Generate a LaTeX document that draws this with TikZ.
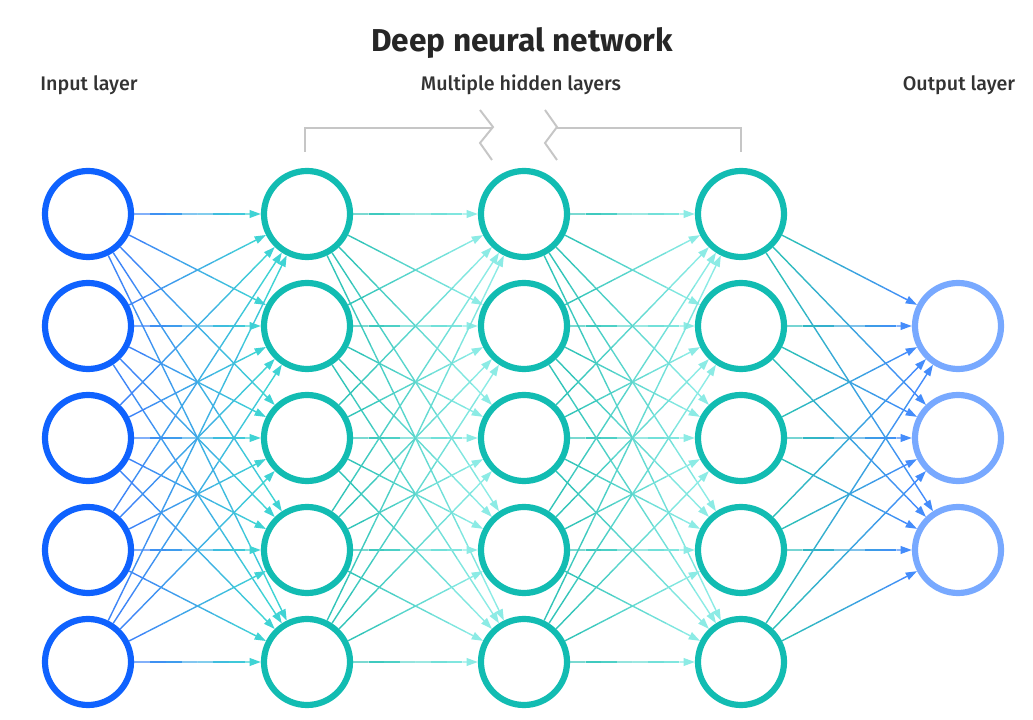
\documentclass[tikz,border=0pt]{standalone}
\usepackage{fontspec}
\setmainfont{Fira Sans}
\newfontfamily\labelfont{Fira Sans}[UprightFont=* Medium]
\usetikzlibrary{arrows.meta,calc}
\definecolor{inblue}{HTML}{0F62FE}
\definecolor{hidteal}{HTML}{12BCB2}
\definecolor{outblue}{HTML}{78A9FF}
\definecolor{edgeblue}{HTML}{3F80FA}
\definecolor{edgecyan}{HTML}{3FD8D2}
\definecolor{edgeteal}{HTML}{2CC2B6}
\definecolor{edgepale}{HTML}{92EEE8}
\definecolor{edgeout}{HTML}{4589FF}
\definecolor{bracketgray}{HTML}{C6C6C6}
\definecolor{textgray}{HTML}{333333}

\tikzset{
  neuron/.style={circle,draw,line width=4.4pt,minimum size=2.15cm,inner sep=0pt,fill=white},
  wire/.style={line width=1pt},
  wiretip/.style={-{Triangle[length=8pt,width=5.5pt]}},
  layerlabel/.style={font=\fontsize{14}{16}\selectfont\labelfont,text=textgray}
}

% edge fading from colour #3 to colour #4
\newcommand{\fadeedge}[4]{%
  \path (#1) -- (#2) coordinate[pos=0] (s) coordinate[pos=1] (e);
  \foreach \k in {0,...,6}{
    \pgfmathtruncatemacro{\mix}{100-(\k+0.5)*100/8}
    \draw[wire,color=#3!\mix!#4] ($(s)!\k/8!(e)$) -- ($(s)!\k/8+1/8!(e)$);
  }
  \draw[wire,wiretip,color=#3!6!#4] ($(s)!7/8!(e)$) -- (e);
}

\begin{document}
\begin{tikzpicture}[x=0.025cm,y=-0.025cm]
\useasboundingbox (0,0) rectangle (1033,720);

% Titles
\node[font=\fontsize{22.5}{26}\selectfont\bfseries,text=black!85] (title) at (522,43) {Deep neural network};
\node[layerlabel] (inlabel) at (89,85) {Input layer};
\node[layerlabel] (hidlabel) at (521,85) {Multiple hidden layers};
\node[layerlabel] (outlabel) at (959,85) {Output layer};

% Bracket over hidden layers
\draw[bracketgray,line width=1.4pt] (305,152) -- (305,128) -- (493,128);
\draw[bracketgray,line width=1.4pt] (480,110) -- (493,127) -- (480,143) -- (492,160);
\draw[bracketgray,line width=1.4pt] (741,152) -- (741,128) -- (557,128);
\draw[bracketgray,line width=1.4pt] (545,110) -- (557,127) -- (545,143) -- (557,160);

% Neurons
\foreach \i in {1,...,5}{
  \node[neuron,draw=inblue] (i\i) at (88,102+112*\i) {};
  \node[neuron,draw=hidteal] (a\i) at (307,102+112*\i) {};
  \node[neuron,draw=hidteal] (b\i) at (524,102+112*\i) {};
  \node[neuron,draw=hidteal] (c\i) at (741,102+112*\i) {};
}
\foreach \i in {1,2,3}
  \node[neuron,draw=outblue] (o\i) at (958,214+112*\i) {};

% Connections
\foreach \i in {1,...,5}{
  \foreach \j in {1,...,5}{
    \fadeedge{i\i}{a\j}{edgeblue}{edgecyan}
    \fadeedge{a\i}{b\j}{edgeteal}{edgepale}
    \fadeedge{b\i}{c\j}{edgeteal}{edgepale}
  }
}
\foreach \i in {1,...,5}{
  \foreach \j in {1,2,3}{
    \fadeedge{c\i}{o\j}{edgeteal}{edgeout}
  }
}
\end{tikzpicture}
\end{document}
